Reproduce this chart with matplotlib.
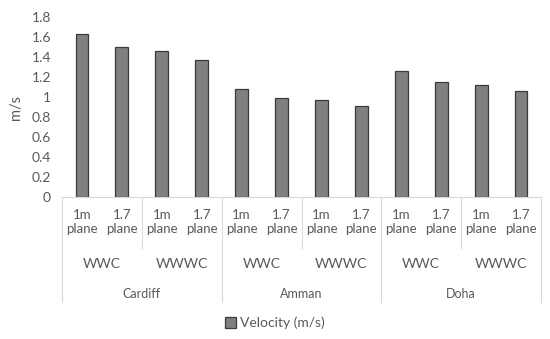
import numpy as np
import matplotlib.pyplot as plt
from matplotlib.transforms import blended_transform_factory
from matplotlib.lines import Line2D

plt.rcParams['font.family'] = ['Lato', 'DejaVu Sans']

cities = ['Cardiff', 'Amman', 'Doha']
configs = ['WWC', 'WWWC']
planes = ['1m\nplane', '1.7\nplane']
velocity = [1.63, 1.50, 1.46, 1.37,
            1.08, 0.99, 0.97, 0.91,
            1.26, 1.15, 1.12, 1.06]

grey = '#595959'
line_c = '#d9d9d9'
W, H = 550, 339

fig = plt.figure(figsize=(5.5, 3.39), dpi=100)
ax = fig.add_axes([62 / W, 1 - 197 / H, 479 / W, 180 / H])

x = np.arange(len(velocity)) + 0.5
ax.bar(x, velocity, width=0.32, color='#808080', edgecolor='#3a3a3a', linewidth=0.9,
       label='Velocity (m/s)', zorder=3)

ax.set_xlim(0, len(velocity))
ax.set_ylim(0, 1.8)
ax.set_yticks(np.arange(0, 1.81, 0.2))
ax.set_yticklabels(['0', '0.2', '0.4', '0.6', '0.8', '1', '1.2', '1.4', '1.6', '1.8'])
ax.tick_params(axis='y', length=0, labelsize=10, labelcolor=grey, pad=8)
ax.set_xticks([])
for s in ['top', 'right', 'left']:
    ax.spines[s].set_visible(False)
ax.spines['bottom'].set_color(line_c)
ax.set_ylabel('m/s', fontsize=10.5, color=grey, labelpad=6)

tr = blended_transform_factory(ax.transData, fig.transFigure)


def fy(px):
    return 1 - px / H


# bottom level labels
for i, xi in enumerate(x):
    ax.text(xi, fy(222), planes[i % 2], transform=tr, ha='center', va='center',
            fontsize=9.5, color=grey, linespacing=1.2)

# middle level labels
for j in range(len(cities) * len(configs)):
    ax.text(2 * j + 1, fy(264), configs[j % 2], transform=tr, ha='center', va='center',
            fontsize=10, color=grey)

# top level labels
for k, c in enumerate(cities):
    ax.text(4 * k + 2, fy(294), c, transform=tr, ha='center', va='center',
            fontsize=9, color=grey)

# separators
for xs in [2, 6, 10]:
    fig.add_artist(Line2D([xs, xs], [fy(197), fy(248)], transform=tr, color=line_c, lw=0.8))
for xs in [0, 4, 8, 12]:
    fig.add_artist(Line2D([xs, xs], [fy(197), fy(302)], transform=tr, color=line_c, lw=0.8))

fig.legend(loc='center', bbox_to_anchor=(0.5, fy(323)), frameon=False, fontsize=10,
           labelcolor=grey, handlelength=0.8, handleheight=0.8, handletextpad=0.3)

fig.savefig('out.png', dpi=100)
